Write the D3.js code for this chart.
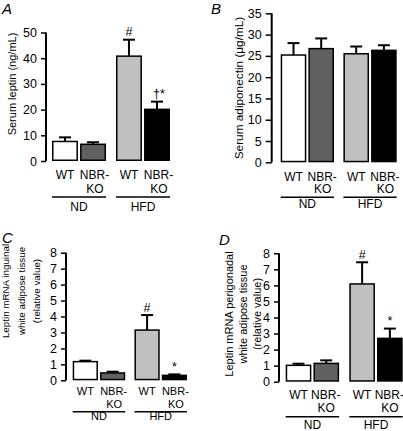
<!DOCTYPE html>
<html><head><meta charset="utf-8">
<script src="https://cdn.jsdelivr.net/npm/d3@7"></script>
<style>body{margin:0;background:#fff}svg{display:block;font-family:"Liberation Sans",Arial,sans-serif}</style>
</head><body><svg id="c" width="403" height="431"></svg>
<script>
const groups = ["ND", "HFD"];
const genotypes = ["WT", "NBR-KO"];
const barColors = ["#ffffff", "#606060", "#c0c0c0", "#000000"];

const leptinMean = [7.6, 6.5, 40.8, 20.1];
const leptinSem = [1.6, 0.8, 6.4, 3.0];
const leptinMarks = ["", "", "#", "†*"];
const leptinTicks = [0, 10, 20, 30, 40, 50];

const adipoMean = [25.2, 26.7, 25.5, 26.3];
const adipoSem = [2.8, 2.4, 1.7, 1.2];
const adipoMarks = ["", "", "", ""];
const adipoTicks = [0, 5, 10, 15, 20, 25, 30, 35];

const inguinalMean = [1.17, 0.46, 3.15, 0.31];
const inguinalSem = [0.06, 0.08, 0.94, 0.06];
const inguinalMarks = ["", "", "#", "*"];
const mrnaTicks = [0, 1, 2, 3, 4, 5, 6, 7, 8];

const perigonadalMean = [1.02, 1.14, 6.09, 2.70];
const perigonadalSem = [0.10, 0.19, 1.35, 0.61];
const perigonadalMarks = ["", "", "#", "*"];

const svg = d3.select("#c");

const panels = [
  {letter:"A", lx:2, ly:13.5, mean:leptinMean, sem:leptinSem, marks:leptinMarks, ticks:leptinTicks, max:50,
   ax:46, top:32.5, bot:161, x0:52, x1:170, gapPad:0.156, tickSize:5,
   ylab:["Serum leptin (ng/mL)"], labX:[15.5], labY:84, labFs:11, catFs:12, koShift:1.5,
   off:{wt:18, ko:32, line:36, grp:50}},
  {letter:"B", lx:211, ly:13.5, mean:adipoMean, sem:adipoSem, marks:adipoMarks, ticks:adipoTicks, max:35,
   ax:271.7, top:13.3, bot:162.3, x0:280.7, x1:396.7, gapPad:0.15, tickSize:6,
   ylab:["Serum adiponectin (\u03bcg/mL)"], labX:[243], labY:88, labFs:11.8, catFs:12, koShift:1,
   off:{wt:18.4, ko:31, line:35, grp:46}},
  {letter:"C", lx:2, ly:243, mean:inguinalMean, sem:inguinalSem, marks:inguinalMarks, ticks:mrnaTicks, max:8,
   ax:66, top:252.7, bot:380.3, x0:72.7, x1:187, gapPad:0.15, tickSize:5,
   ylab:["Leptin mRNA inguinal","white adipose tissue","(relative value)"], labX:[9,24.5,40], labY:291, labFs:9.8, catFs:11, koShift:1,
   off:{wt:15, ko:27.4, line:31.4, grp:40}},
  {letter:"D", lx:219, ly:245, mean:perigonadalMean, sem:perigonadalSem, marks:perigonadalMarks, ticks:mrnaTicks, max:8,
   ax:279, top:253.3, bot:381.7, x0:285.7, x1:402.7, gapPad:0.16, tickSize:5,
   ylab:["Leptin mRNA perigonadal","white adipose tissue","(relative value)"], labX:[233,247,261], labY:314, labFs:11, catFs:12, koShift:-0.5,
   off:{wt:17.6, ko:30.6, line:35, grp:47.6}}
];

panels.forEach(p => {
  const g = svg.append("g");
  const y = d3.scaleLinear().domain([0, p.max]).range([p.bot, p.top]);
  const xg = d3.scaleBand().domain(groups).range([p.x0, p.x1]).paddingInner(p.gapPad).paddingOuter(0);
  const xi = d3.scaleBand().domain(genotypes).range([0, xg.bandwidth()]).paddingInner(0.075).paddingOuter(0);

  // panel letter
  g.append("text").attr("x", p.lx).attr("y", p.ly).attr("font-size", 15).attr("font-style", "italic").text(p.letter);

  // y axis
  const axis = d3.axisLeft(y).tickValues(p.ticks).tickSize(p.tickSize).tickPadding(4).tickFormat(d3.format("d"));
  const ag = g.append("g").attr("transform", `translate(${p.ax},0)`).call(axis);
  ag.select(".domain").attr("d", `M0,${p.top}V${p.bot}`).attr("stroke", "#000").attr("stroke-width", 2);
  ag.selectAll(".tick line").attr("stroke", "#000").attr("stroke-width", 1.5);
  ag.selectAll(".tick text").attr("font-size", 12.5).attr("fill", "#000").attr("font-family", "Liberation Sans, Arial, sans-serif");

  // y label
  p.ylab.forEach((t, i) => {
    g.append("text").attr("transform", `translate(${p.labX[i]},${p.labY}) rotate(-90)`)
      .attr("text-anchor", "middle").attr("font-size", p.labFs).text(t);
  });

  const data = p.mean.map((m, i) => ({m, s: p.sem[i], mark: p.marks[i], grp: groups[Math.floor(i/2)], gen: genotypes[i%2], col: barColors[i]}));
  const bx = d => xg(d.grp) + xi(d.gen);
  const bw = xi.bandwidth();

  // error bars (upward only)
  data.forEach(d => {
    const cx = bx(d) + bw/2;
    g.append("line").attr("x1", cx).attr("x2", cx).attr("y1", y(d.m)).attr("y2", y(d.m + d.s)).attr("stroke", "#000").attr("stroke-width", 2);
    g.append("line").attr("x1", cx - 6).attr("x2", cx + 6).attr("y1", y(d.m + d.s)).attr("y2", y(d.m + d.s)).attr("stroke", "#000").attr("stroke-width", 2);
    if (d.mark) g.append("text").attr("x", cx + (d.mark.length > 1 ? 2 : 0)).attr("y", y(d.m + d.s) - 3.5)
      .attr("text-anchor", "middle").attr("font-size", 12.5).text(d.mark);
  });

  // bars
  g.selectAll("rect.bar").data(data).join("rect").attr("class", "bar")
    .attr("x", d => bx(d) + 0.75).attr("width", bw - 1.5)
    .attr("y", d => y(d.m)).attr("height", d => y(0) - y(d.m) - 0.75)
    .attr("fill", d => d.col).attr("stroke", "#000").attr("stroke-width", 1.5);

  // category labels
  data.forEach(d => {
    const cx = bx(d) + bw/2;
    if (d.gen === "WT") {
      g.append("text").attr("x", cx).attr("y", p.bot + p.off.wt).attr("text-anchor", "middle").attr("font-size", p.catFs).text("WT");
    } else {
      g.append("text").attr("x", cx + p.koShift).attr("y", p.bot + p.off.wt).attr("text-anchor", "middle").attr("font-size", p.catFs).text("NBR-");
      g.append("text").attr("x", cx + p.koShift + 0.5).attr("y", p.bot + p.off.ko).attr("text-anchor", "middle").attr("font-size", p.catFs).text("KO");
    }
  });

  // group lines and labels
  groups.forEach(gr => {
    const gx = xg(gr);
    g.append("line").attr("x1", gx).attr("x2", gx + xg.bandwidth()).attr("y1", p.bot + p.off.line).attr("y2", p.bot + p.off.line)
      .attr("stroke", "#000").attr("stroke-width", 1.5);
    g.append("text").attr("x", gx + xg.bandwidth()/2).attr("y", p.bot + p.off.grp).attr("text-anchor", "middle").attr("font-size", p.catFs).text(gr);
  });
});
</script></body></html>
